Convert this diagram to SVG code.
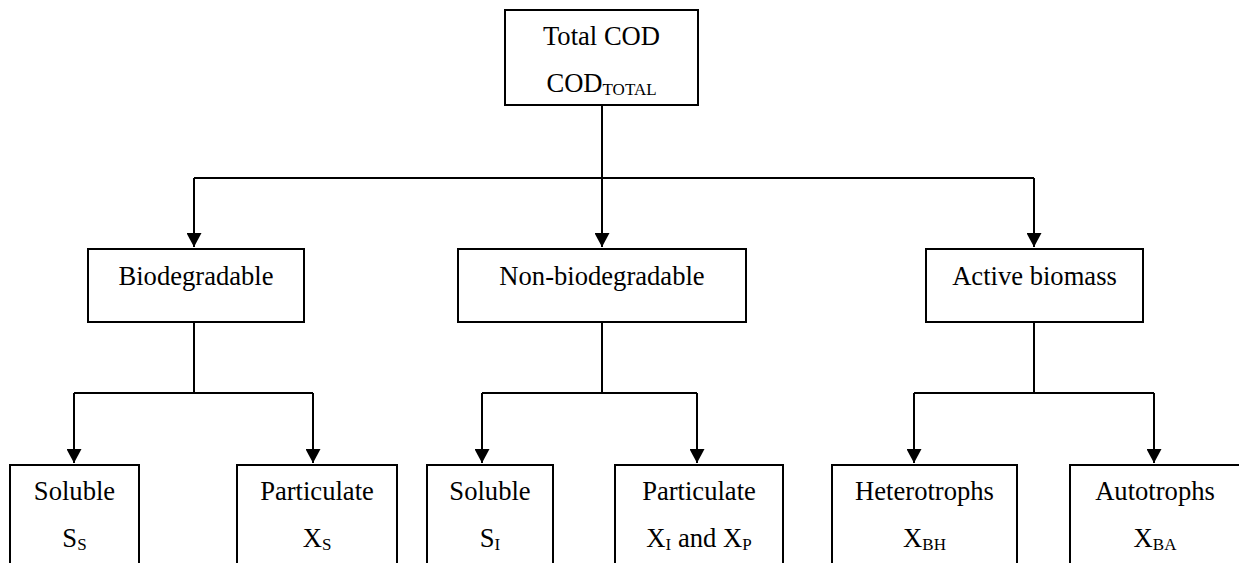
<svg xmlns="http://www.w3.org/2000/svg" width="1239" height="563" viewBox="0 0 1239 563">
  <defs>
    <style>
      .box { fill: #ffffff; stroke: #000000; stroke-width: 2; }
      .lbl { font-family: "Liberation Serif", "Times New Roman", serif; font-size: 26.6px; fill: #000000; text-anchor: middle; }
      .sub { font-size: 17px; }
      .conn { fill: none; stroke: #000000; stroke-width: 2; }
    </style>
    <marker id="arrow" markerUnits="userSpaceOnUse" markerWidth="15" markerHeight="15" refX="14" refY="7.5" orient="auto">
      <path d="M0,0 L14,7.5 L0,15 z" fill="#000000"/>
    </marker>
  </defs>
  <rect width="1239" height="563" fill="#ffffff"/>

  <g id="connectors">
    <path class="conn" d="M602,105 V247" marker-end="url(#arrow)"/>
    <path class="conn" d="M194,178 H1034"/>
    <path class="conn" d="M194,178 V247" marker-end="url(#arrow)"/>
    <path class="conn" d="M1034,178 V247" marker-end="url(#arrow)"/>

    <path class="conn" d="M194,322 V393"/>
    <path class="conn" d="M74,393 H313"/>
    <path class="conn" d="M74,393 V463" marker-end="url(#arrow)"/>
    <path class="conn" d="M313,393 V463" marker-end="url(#arrow)"/>

    <path class="conn" d="M602,322 V393"/>
    <path class="conn" d="M482,393 H697"/>
    <path class="conn" d="M482,393 V463" marker-end="url(#arrow)"/>
    <path class="conn" d="M697,393 V463" marker-end="url(#arrow)"/>

    <path class="conn" d="M1034,322 V393"/>
    <path class="conn" d="M914,393 H1154"/>
    <path class="conn" d="M914,393 V463" marker-end="url(#arrow)"/>
    <path class="conn" d="M1154,393 V463" marker-end="url(#arrow)"/>
  </g>

  <g id="total">
    <rect class="box" x="505" y="10" width="193" height="95"/>
    <text class="lbl" x="601.5" y="45">Total COD</text>
    <text class="lbl" x="601.5" y="92">COD<tspan class="sub" dy="3">TOTAL</tspan></text>
  </g>

  <g id="biodegradable">
    <rect class="box" x="88" y="249" width="216" height="73"/>
    <text class="lbl" x="196" y="285">Biodegradable</text>
  </g>

  <g id="nonbiodegradable">
    <rect class="box" x="458" y="249" width="288" height="73"/>
    <text class="lbl" x="602" y="285">Non-biodegradable</text>
  </g>

  <g id="activebiomass">
    <rect class="box" x="926" y="249" width="217" height="73"/>
    <text class="lbl" x="1034.5" y="285">Active biomass</text>
  </g>

  <g id="soluble-ss">
    <rect class="box" x="10" y="465" width="129" height="120"/>
    <text class="lbl" x="74.5" y="500">Soluble</text>
    <text class="lbl" x="74.5" y="547">S<tspan class="sub" dy="3">S</tspan></text>
  </g>

  <g id="particulate-xs">
    <rect class="box" x="237" y="465" width="160" height="120"/>
    <text class="lbl" x="317" y="500">Particulate</text>
    <text class="lbl" x="317" y="547">X<tspan class="sub" dy="3">S</tspan></text>
  </g>

  <g id="soluble-si">
    <rect class="box" x="427" y="465" width="126" height="120"/>
    <text class="lbl" x="490" y="500">Soluble</text>
    <text class="lbl" x="490" y="547">S<tspan class="sub" dy="3">I</tspan></text>
  </g>

  <g id="particulate-xi-xp">
    <rect class="box" x="615" y="465" width="168" height="120"/>
    <text class="lbl" x="699" y="500">Particulate</text>
    <text class="lbl" x="699" y="547">X<tspan class="sub" dy="3">I</tspan><tspan dy="-3"> and X</tspan><tspan class="sub" dy="3">P</tspan></text>
  </g>

  <g id="heterotrophs">
    <rect class="box" x="832" y="465" width="185" height="120"/>
    <text class="lbl" x="924.5" y="500">Heterotrophs</text>
    <text class="lbl" x="924.5" y="547">X<tspan class="sub" dy="3">BH</tspan></text>
  </g>

  <g id="autotrophs">
    <rect class="box" x="1070" y="465" width="170" height="120"/>
    <text class="lbl" x="1155" y="500">Autotrophs</text>
    <text class="lbl" x="1155" y="547">X<tspan class="sub" dy="3">BA</tspan></text>
  </g>
</svg>
